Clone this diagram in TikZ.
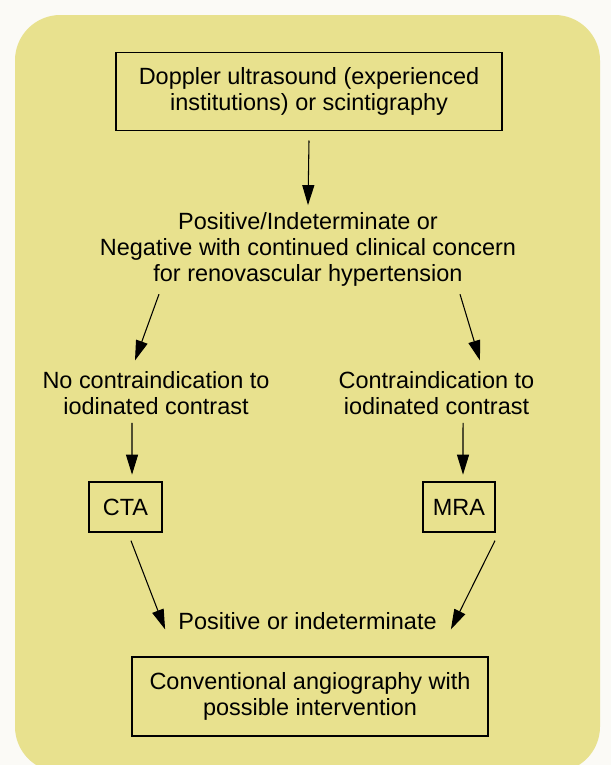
\documentclass[tikz,border=0pt]{standalone}
\usepackage{fontspec}
\setmainfont{Liberation Sans}
\usepackage[dvipsnames,svgnames]{xcolor}
\usetikzlibrary{arrows.meta}
\definecolor{panel}{RGB}{232,225,142}
\definecolor{paper}{RGB}{251,250,246}

\begin{document}
\begin{tikzpicture}[x=0.75pt,y=-0.75pt,
    every node/.style={font=\fontsize{17.6pt}{19.5pt}\selectfont,align=center,inner sep=0pt},
    box/.style={draw,line width=1pt},
    arr/.style={line width=0.8pt,-{Triangle[length=15pt,width=9pt]}}]
    % panel
    \fill[paper] (0,0) rectangle (611,765);
    \useasboundingbox (0,0) rectangle (611,765);
    \fill[panel,rounded corners=34pt] (15,15) rectangle (600,772);
    % steps
    \node[box,minimum width=289.5pt,minimum height=58.5pt] (doppler) at (309,91.5)
        {Doppler ultrasound (experienced\\ institutions) or scintigraphy};
    \node (concern) at (308,249)
        {Positive/Indeterminate or\\ Negative with continued clinical concern\\ for renovascular hypertension};
    \node (nocontra) at (156,393) {No contraindication to\\ iodinated contrast};
    \node (contra) at (436.5,393) {Contraindication to\\ iodinated contrast};
    \node[box,minimum width=54.75pt,minimum height=37.5pt] (cta) at (125.5,507) {CTA};
    \node[box,minimum width=54pt,minimum height=37.5pt] (mra) at (459,507) {MRA};
    \node (posind) at (307.5,621) {Positive or indeterminate};
    \node[box,minimum width=267pt,minimum height=59.25pt] (angio) at (310,696.5)
        {Conventional angiography with\\ possible intervention};
    % arrows
    \draw[arr] ([yshift=-7pt]doppler.south) -- ([yshift=5pt]concern.north);
    \draw[arr] ([xshift=-111.75pt,yshift=-6pt]concern.south) -- ([xshift=-15.75pt,yshift=8pt]nocontra.north);
    \draw[arr] ([xshift=114pt,yshift=-6pt]concern.south) -- ([xshift=32.6pt,yshift=8pt]contra.north);
    \draw[arr] ([xshift=-18pt,yshift=-6pt]nocontra.south) -- ([xshift=4.9pt,yshift=5pt]cta.north);
    \draw[arr] ([xshift=19.9pt,yshift=-6pt]contra.south) -- ([xshift=3pt,yshift=5pt]mra.north);
    \draw[arr] ([xshift=4.1pt,yshift=-6pt]cta.south) -- ([xshift=-9.75pt]posind.base west);
    \draw[arr] ([xshift=27pt,yshift=-6pt]mra.south) -- ([xshift=10.5pt]posind.base east);
\end{tikzpicture}
\end{document}
